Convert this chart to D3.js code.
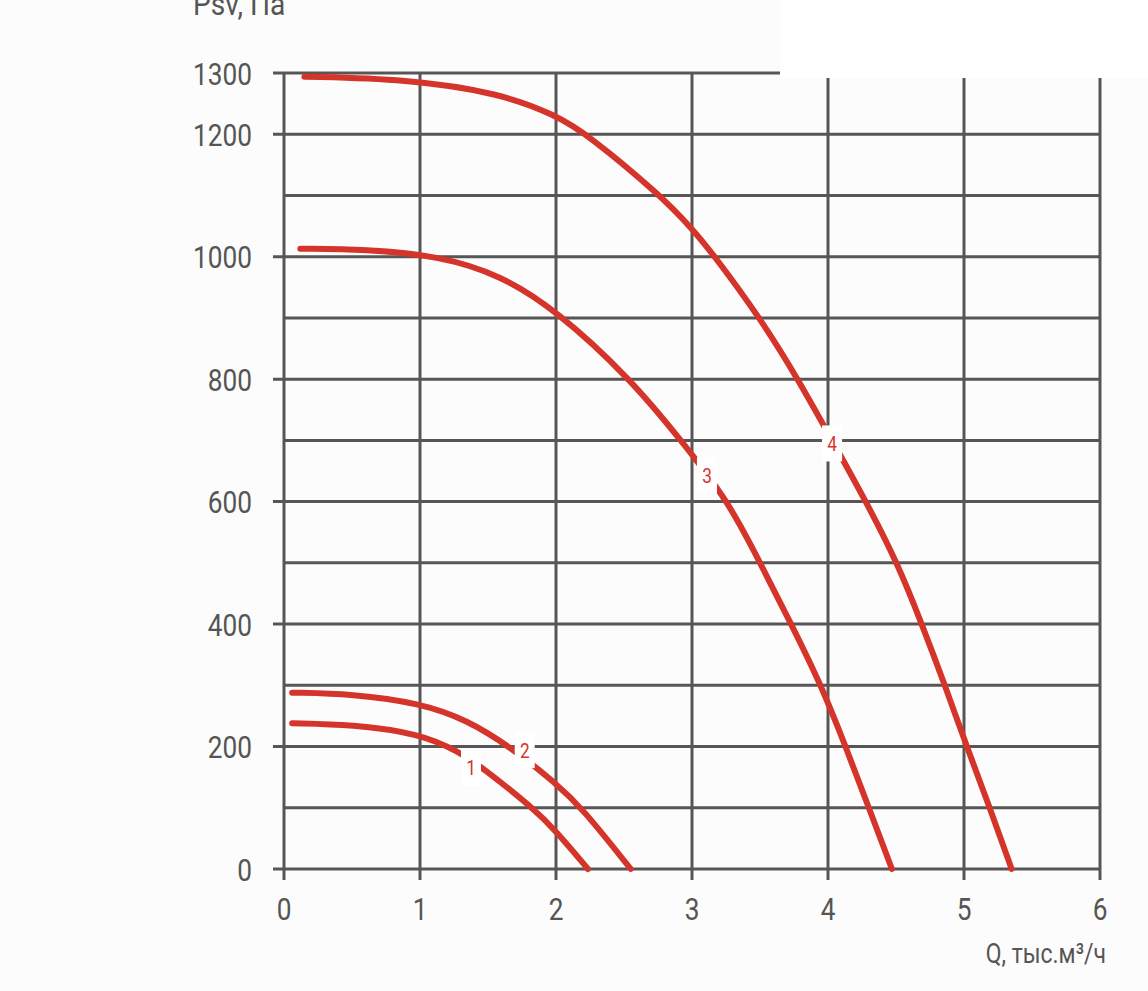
<!DOCTYPE html>
<html>
<head>
<meta charset="utf-8">
<script src="https://cdn.jsdelivr.net/npm/d3@7"></script>
<style>
  html, body { margin: 0; padding: 0; background: #fcfcfc; }
  svg text { font-family: "Roboto", "DejaVu Sans Condensed", sans-serif; fill: #555; }
</style>
</head>
<body>
<div id="chart"></div>
<script>
// curves: [Q thousand m3/h, Psv Pa]
const curve1 = [[0.06, 238], [0.5, 236], [1, 221], [1.29, 191], [1.45, 167], [1.83, 100], [2, 62], [2.235, 0]];
const curve2 = [[0.06, 288], [0.5, 286], [1, 271], [1.35, 243], [1.66, 200], [2, 140], [2.19, 100], [2.55, 0]];
const curve3 = [[0.12, 1013], [0.6, 1012], [1.15, 1001], [1.59, 970], [2, 913],
    [2.55, 800], [2.92, 700], [3.27, 600], [3.5, 500], [3.73, 400], [3.95, 300], [4.13, 200], [4.3, 100], [4.47, 0]];
const curve4 = [[0.15, 1294], [0.9, 1290], [1.59, 1267], [2, 1231], [2.23, 1200], [2.77, 1100],
    [3, 1046], [3.17, 1000], [3.5, 900], [3.78, 800], [4.03, 700], [4.28, 600], [4.51, 500], [4.69, 400],
    [4.86, 300], [5.02, 200], [5.19, 100], [5.35, 0]];
const curves = [curve1, curve2, curve3, curve4];
const curveNames = ['1', '2', '3', '4'];
const labelPos = [[1.375, 165], [1.77, 194], [3.11, 643], [4.03, 695]];

const xTicks = [0, 1, 2, 3, 4, 5, 6];
const yGrid = d3.range(0, 1301, 100);
const yTickLabels = [0, 200, 400, 600, 800, 1000, 1200, 1300];

const svgWidth = 1148;
const svgHeight = 991;
const margin = { top: 73, right: 48, bottom: 122, left: 284 };
const width = svgWidth - margin.left - margin.right;
const height = svgHeight - margin.top - margin.bottom;
const squeeze = 0.82; // narrow the glyphs like the condensed font of the original

const svg = d3.select('#chart')
    .append('svg')
    .attr('width', svgWidth)
    .attr('height', svgHeight);

const g = svg.append('g')
    .attr('transform', 'translate(' + margin.left + ',' + margin.top + ')');

const xScale = d3.scaleLinear().domain([0, 6]).range([0, width]);
const yScale = d3.scaleLinear().domain([0, 1300]).range([height, 0]);

const gridColor = '#565656';

// horizontal grid, labelled rows get a tick on the left
g.selectAll('.hgrid')
    .data(yGrid)
    .enter().append('line')
    .attr('x1', d => yTickLabels.includes(d) ? -11 : 0)
    .attr('x2', width)
    .attr('y1', d => yScale(d))
    .attr('y2', d => yScale(d))
    .attr('stroke', gridColor)
    .attr('stroke-width', 3);

// vertical grid, with ticks below
g.selectAll('.vgrid')
    .data(xTicks)
    .enter().append('line')
    .attr('x1', d => xScale(d))
    .attr('x2', d => xScale(d))
    .attr('y1', yScale(1300))
    .attr('y2', height + 11)
    .attr('stroke', gridColor)
    .attr('stroke-width', 3);

// white block in the top-right corner hides the top of the grid
svg.append('rect')
    .attr('x', 780)
    .attr('y', 0)
    .attr('width', svgWidth - 780)
    .attr('height', 78)
    .attr('fill', '#ffffff');

function narrowText(parent, x, y, size, anchor, str, sx) {
    return parent.append('text')
        .attr('transform', 'translate(' + x + ',' + y + ') scale(' + (sx || squeeze) + ',1)')
        .attr('text-anchor', anchor)
        .style('font-size', size + 'px')
        .text(str);
}

yTickLabels.forEach(d => {
    narrowText(g, -32, yScale(d) + 11.5, 32, 'end', d);
});

xTicks.forEach(d => {
    narrowText(g, xScale(d), height + 51, 32, 'middle', d);
});

narrowText(svg, 193, 15, 32, 'start', 'Psv, Па', 0.88);
narrowText(svg, 1106, 963, 28, 'end', 'Q, тыс.м³/ч');

const line = d3.line()
    .x(d => xScale(d[0]))
    .y(d => yScale(d[1]))
    .curve(d3.curveBasis);

g.selectAll('.curve')
    .data(curves)
    .enter().append('path')
    .attr('fill', 'none')
    .attr('stroke', '#d5342a')
    .attr('stroke-width', 6)
    .attr('stroke-linecap', 'round')
    .attr('d', line);

const labels = g.selectAll('.clabel')
    .data(labelPos)
    .enter().append('g')
    .attr('transform', d => 'translate(' + xScale(d[0]) + ',' + yScale(d[1]) + ')');

labels.append('rect')
    .attr('x', -10)
    .attr('y', -18)
    .attr('width', 20)
    .attr('height', 36)
    .attr('fill', '#ffffff');

labels.append('text')
    .attr('transform', 'scale(' + squeeze + ',1)')
    .attr('text-anchor', 'middle')
    .attr('y', 7.5)
    .style('font-size', '21px')
    .style('fill', '#d5342a')
    .text((d, i) => curveNames[i]);
</script>
</body>
</html>
